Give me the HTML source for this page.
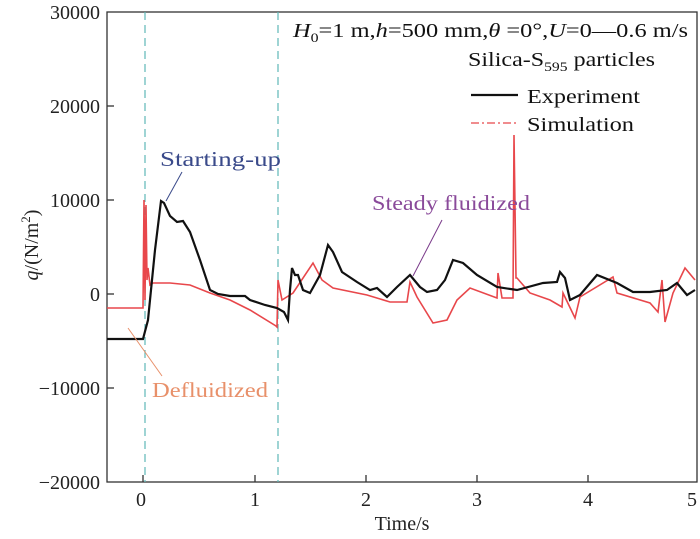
<!DOCTYPE html>
<html><head><meta charset="utf-8"><style>
body{margin:0;background:#fff}
svg{display:block;font-family:"Liberation Serif",serif}
</style></head><body>
<svg width="700" height="539" viewBox="0 0 700 539" xmlns="http://www.w3.org/2000/svg">
<rect x="107" y="12" width="590" height="470" fill="none" stroke="#333" stroke-width="1.3"/>
<g stroke="#333" stroke-width="1.3">
<line x1="107" y1="106" x2="114" y2="106"/><line x1="107" y1="200" x2="114" y2="200"/>
<line x1="107" y1="294" x2="114" y2="294"/><line x1="107" y1="388" x2="114" y2="388"/>
<line x1="143" y1="482" x2="143" y2="475"/><line x1="255" y1="482" x2="255" y2="475"/>
<line x1="366" y1="482" x2="366" y2="475"/><line x1="477" y1="482" x2="477" y2="475"/>
<line x1="588" y1="482" x2="588" y2="475"/>
</g>
<g font-size="20" fill="#222" text-anchor="end">
<text x="100" y="19">30000</text><text x="100" y="113">20000</text><text x="100" y="207">10000</text>
<text x="100" y="301">0</text><text x="100" y="395">−10000</text><text x="100" y="489">−20000</text>
</g>
<g font-size="20" fill="#222" text-anchor="middle">
<text x="141" y="506">0</text><text x="255" y="506">1</text><text x="366" y="506">2</text>
<text x="477" y="506">3</text><text x="588" y="506">4</text><text x="692" y="506">5</text>
<text x="402" y="530">Time/s</text>
</g>
<text transform="translate(38,245) rotate(-90)" font-size="20" fill="#222" text-anchor="middle"><tspan font-style="italic">q</tspan>/(N/m<tspan font-size="13" dy="-8">2</tspan><tspan dy="8">)</tspan></text>
<g stroke="#5fb8b8" stroke-width="1.2" stroke-dasharray="8,5">
<line x1="145" y1="12" x2="145" y2="482"/><line x1="278" y1="12" x2="278" y2="482"/>
</g>
<polyline fill="none" stroke="#e8474b" stroke-width="1.6" points="107,308 143,308 144,200 145,300 146,205 147,280 148,268 150,285 153,283 170,283 190,285 210,293 230,300 250,310 276,326 277,327 278,280 282,300 293,293 313,263 322,280 333,288 367,295 390,302 407,302 410,282 417,297 433,323 447,320 457,300 470,288 497,298 498,273 502,298 513,298 514,135 516,278 517,278 530,293 550,300 562,307 563,293 575,318 580,297 613,277 617,293 650,303 658,312 662,280 665,322 673,293 685,268 695,280"/>
<polyline fill="none" stroke="#111" stroke-width="2.2" points="107,339 143,339 148,320 155,250 161,201 164,203 170,216 177,222 183,221 190,232 200,260 210,290 218,294 230,296 245,296 250,300 265,305 277,308 284,312 288,320 290,290 292,268 295,275 298,275 303,290 310,293 320,275 328,245 333,252 342,272 357,282 370,290 377,288 387,297 397,287 410,275 420,287 427,292 437,290 445,280 453,260 463,263 477,275 497,287 517,290 543,283 557,282 560,272 565,278 570,300 580,295 597,275 617,283 633,292 650,292 667,290 677,283 687,295 695,290"/>
<line x1="166" y1="201" x2="182" y2="172" stroke="#3a4a8a" stroke-width="1"/>
<text x="160" y="166" font-size="21" fill="#3a4a8a" textLength="121" lengthAdjust="spacingAndGlyphs">Starting-up</text>
<line x1="413" y1="276" x2="442" y2="220" stroke="#7a3a8a" stroke-width="1"/>
<text x="372" y="210" font-size="21" fill="#8a4a9a" textLength="158" lengthAdjust="spacingAndGlyphs">Steady fluidized</text>
<line x1="128" y1="328" x2="162" y2="376" stroke="#e8906a" stroke-width="1"/>
<text x="152" y="397" font-size="21" fill="#e8906a" textLength="116" lengthAdjust="spacingAndGlyphs">Defluidized</text>
<g font-size="20" fill="#111">
<text x="293" y="37" textLength="395" lengthAdjust="spacingAndGlyphs"><tspan font-style="italic">H</tspan><tspan font-size="13" dy="5">0</tspan><tspan dy="-5">=1 m,</tspan><tspan font-style="italic">h</tspan>=500 mm,<tspan font-style="italic">θ</tspan> =0°,<tspan font-style="italic">U</tspan>=0—0.6 m/s</text>
<text x="468" y="66" textLength="187" lengthAdjust="spacingAndGlyphs">Silica-S<tspan font-size="13" dy="5">595</tspan><tspan dy="-5"> particles</tspan></text>
<text x="527" y="103" textLength="113" lengthAdjust="spacingAndGlyphs">Experiment</text>
<text x="527" y="131" textLength="107" lengthAdjust="spacingAndGlyphs">Simulation</text>
</g>
<line x1="471" y1="95" x2="518" y2="95" stroke="#111" stroke-width="2.2"/>
<line x1="471" y1="123" x2="518" y2="123" stroke="#e8474b" stroke-width="1.2" stroke-dasharray="8,3,2,3"/>
</svg>
</body></html>
